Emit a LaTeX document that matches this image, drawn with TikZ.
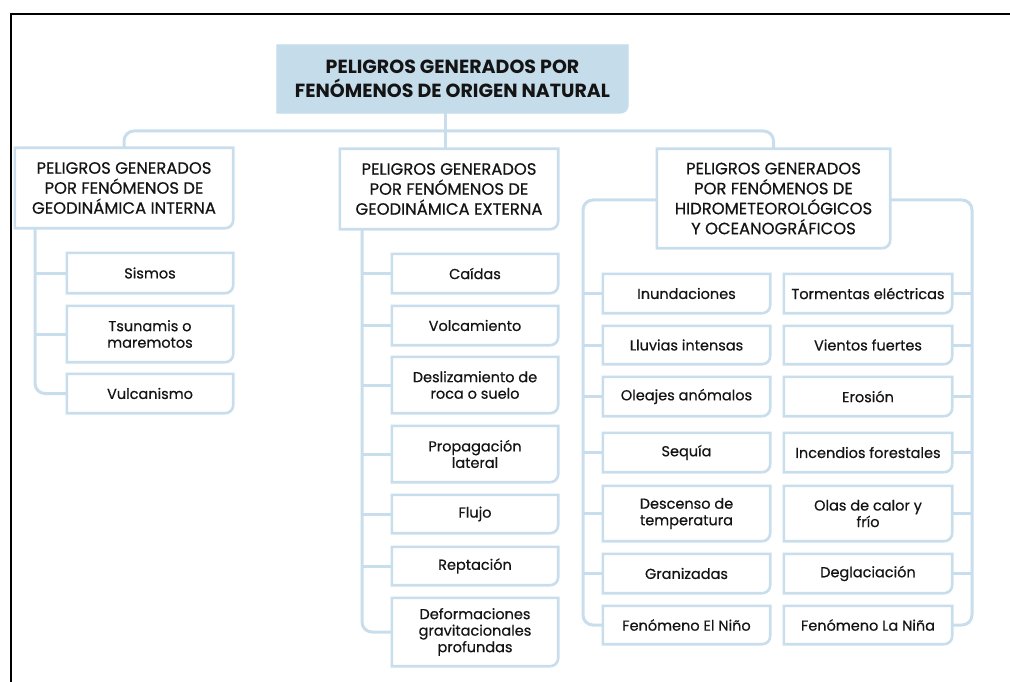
\documentclass[tikz,border=0pt]{standalone}
\usepackage{fontspec}
\setmainfont{Poppins}
\newfontfamily\medfont{Poppins}[FakeBold=0.5]
\definecolor{lb}{RGB}{200,222,236}
\definecolor{rootfill}{RGB}{197,220,234}
\definecolor{txt}{RGB}{20,20,20}
\tikzset{
  conn/.style={draw=lb, line width=3pt, rounded corners=10pt},
  bline/.style={draw=lb, fill=white, line width=2.6pt, line join=miter},
  rootf/.style={draw=rootfill, fill=rootfill, line width=1pt},
  tbox/.style={inner sep=0pt, align=center, text=txt},
  rtext/.style={tbox, font=\fontsize{19}{24}\selectfont\bfseries},
  ltext/.style={tbox, font=\medfont\fontsize{16.4}{20}\selectfont},
  ctext/.style={tbox, font=\medfont\fontsize{14.5}{16.5}\selectfont},
}
\newcommand\bxshape[2]{%
  \path[#1] (#2.south west) -- (#2.north west) -- (#2.north east) -- ([yshift=8pt]#2.south east) to[out=-90,in=0] ([xshift=-8pt]#2.south east) -- cycle;}
\begin{document}
\begin{tikzpicture}[x=1pt,y=-1pt]
\useasboundingbox (0,0) rectangle (1010,682);
% frame
\draw[line width=2.2pt, black] (11,682) -- (11,14) -- (1010,14);

% invisible nodes defining boxes (minimum sizes)
\tikzset{bx/.style n args={2}{minimum width=#1pt, minimum height=#2pt, inner sep=0pt}}
\node[bx={351}{68}] (root) at (452.5,79) {};
\node[bx={218}{80}] (int) at (124,188) {};
\node[bx={218}{80}] (ext) at (449,189) {};
\node[bx={233}{99}] (hid) at (773.5,198.5) {};
% interna children
\node[bx={166}{40}] (sis) at (150,273) {};
\node[bx={166}{56}] (tsu) at (150,334) {};
\node[bx={166}{39}] (vul) at (150,393.5) {};
% externa children
\node[bx={166}{39}] (cai) at (475,273.5) {};
\node[bx={166}{39}] (vol) at (475,325.5) {};
\node[bx={166}{56}] (des) at (475,385) {};
\node[bx={166}{56}] (pro) at (475,454) {};
\node[bx={166}{38}] (flu) at (475,514) {};
\node[bx={166}{38}] (rep) at (475,566) {};
\node[bx={166}{68}] (def) at (475,632) {};
% hidro left column
\node[bx={167}{39}] (inu) at (686.5,293.5) {};
\node[bx={167}{38}] (llu) at (686.5,345) {};
\node[bx={167}{39}] (ole) at (686.5,396.5) {};
\node[bx={167}{39}] (seq) at (686.5,452.5) {};
\node[bx={167}{55}] (dsc) at (686.5,513.5) {};
\node[bx={167}{39}] (gra) at (686.5,573.5) {};
\node[bx={167}{38}] (nin) at (686.5,625) {};
% hidro right column
\node[bx={168}{39}] (tor) at (868,293.5) {};
\node[bx={168}{38}] (vie) at (868,345) {};
\node[bx={168}{39}] (ero) at (868,396.5) {};
\node[bx={168}{39}] (inc) at (868,452.5) {};
\node[bx={168}{55}] (ola) at (868,513.5) {};
\node[bx={168}{39}] (deg) at (868,573.5) {};
\node[bx={168}{38}] (nina) at (868,625) {};

% junction coordinates
\coordinate (jc) at (445,131);
\coordinate (ti) at (35,0);
\coordinate (te) at (362,0);
\coordinate (thl) at (583,200);
\coordinate (thr) at (972,200);

% connectors
\draw[conn] (jc |- root.south) -- (jc |- ext.north);
\draw[conn] (int.north) |- (jc) -| (hid.north);
% interna
\draw[conn] (ti |- int.south) |- (vul.west);
\draw[conn] (ti |- sis.west) -- (sis.west);
\draw[conn] (ti |- tsu.west) -- (tsu.west);
% externa
\draw[conn] (te |- ext.south) |- (def.west);
\foreach \n in {cai,vol,des,pro,flu,rep}{\draw[conn] (te |- \n.west) -- (\n.west);}
% hidro
\draw[conn] (thl -| hid.west) -- (thl) |- (nin.west);
\draw[conn] (thr -| hid.east) -- (thr) |- (nina.east);
\foreach \n in {inu,llu,ole,seq,dsc,gra}{\draw[conn] (thl |- \n.west) -- (\n.west);}
\foreach \n in {tor,vie,ero,inc,ola,deg}{\draw[conn] (thr |- \n.east) -- (\n.east);}

% box shapes
\bxshape{rootf}{root}
\foreach \n in {int,ext,hid,sis,tsu,vul,cai,vol,des,pro,flu,rep,def,inu,llu,ole,seq,dsc,gra,nin,tor,vie,ero,inc,ola,deg,nina}{\bxshape{bline}{\n}}

% texts
\node[rtext] (trootl) at (root.center) {PELIGROS GENERADOS POR\\FENÓMENOS DE ORIGEN NATURAL};
\node[ltext] (tint) at (int.center) {PELIGROS GENERADOS\\POR FENÓMENOS DE\\GEODINÁMICA INTERNA};
\node[ltext] (text) at (ext.center) {PELIGROS GENERADOS\\POR FENÓMENOS DE\\GEODINÁMICA EXTERNA};
\node[ltext] (thid) at (hid.center) {PELIGROS GENERADOS\\POR FENÓMENOS DE\\HIDROMETEOROLÓGICOS\\Y OCEANOGRÁFICOS};
\node[ctext] (tsis) at (sis.center) {Sismos};
\node[ctext] (ttsu) at (tsu.center) {Tsunamis o\\maremotos};
\node[ctext] (tvul) at (vul.center) {Vulcanismo};
\node[ctext] (tcai) at (cai.center) {Caídas};
\node[ctext] (tvol) at (vol.center) {Volcamiento};
\node[ctext] (tdes) at (des.center) {Deslizamiento de\\roca o suelo};
\node[ctext] (tpro) at (pro.center) {Propagación\\lateral};
\node[ctext] (tflu) at (flu.center) {Flujo};
\node[ctext] (trep) at (rep.center) {Reptación};
\node[ctext] (tdef) at (def.center) {Deformaciones\\gravitacionales\\profundas};
\node[ctext] (tinu) at (inu.center) {Inundaciones};
\node[ctext] (tllu) at (llu.center) {Lluvias intensas};
\node[ctext] (tole) at (ole.center) {Oleajes anómalos};
\node[ctext] (tseq) at (seq.center) {Sequía};
\node[ctext] (tdsc) at (dsc.center) {Descenso de\\temperatura};
\node[ctext] (tgra) at (gra.center) {Granizadas};
\node[ctext] (tnin) at (nin.center) {Fenómeno El Niño};
\node[ctext] (ttor) at (tor.center) {Tormentas eléctricas};
\node[ctext] (tvie) at (vie.center) {Vientos fuertes};
\node[ctext] (tero) at (ero.center) {Erosión};
\node[ctext] (tinc) at (inc.center) {Incendios forestales};
\node[ctext] (tola) at (ola.center) {Olas de calor y\\frío};
\node[ctext] (tdeg) at (deg.center) {Deglaciación};
\node[ctext] (tnina) at (nina.center) {Fenómeno La Niña};
\end{tikzpicture}
\end{document}
